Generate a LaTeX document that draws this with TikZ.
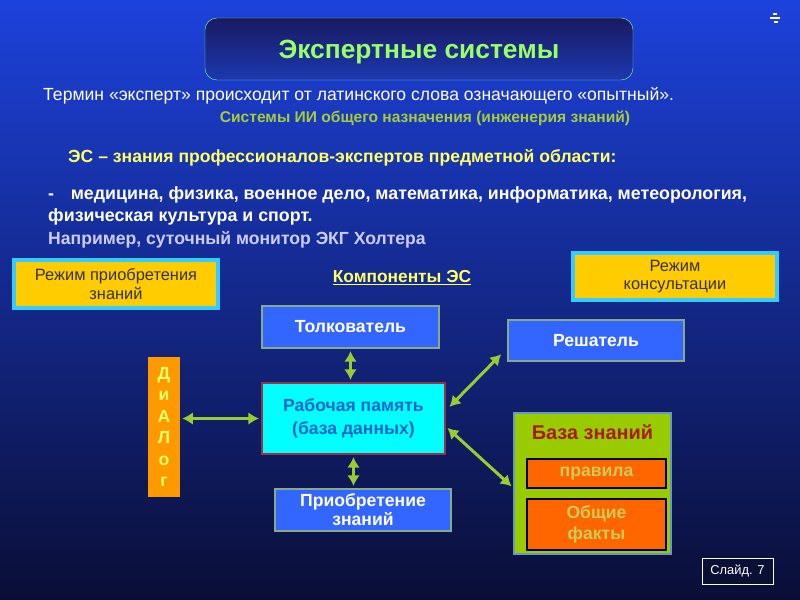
\documentclass[tikz,border=0pt]{standalone}
\usepackage{fontspec}
\setmainfont{Liberation Sans}
\usetikzlibrary{arrows.meta,positioning,calc}
\definecolor{bgtop}{HTML}{1D42DC}
\definecolor{bgmid}{HTML}{0D2890}
\definecolor{bgbot}{HTML}{0A0E36}
\definecolor{titletop}{HTML}{1A1A62}
\definecolor{titlebot}{HTML}{1C38B0}
\definecolor{titleline}{HTML}{77EEAA}
\definecolor{titletext}{HTML}{99FF66}
\definecolor{aigreen}{HTML}{A6CC3C}
\definecolor{esyellow}{HTML}{FFFF66}
\definecolor{lavender}{HTML}{CCCCFF}
\definecolor{gold}{HTML}{FFCC00}
\definecolor{skyline}{HTML}{33CCFF}
\definecolor{partblue}{HTML}{3366FF}
\definecolor{partline}{HTML}{88AA88}
\definecolor{memcyan}{HTML}{00FFFF}
\definecolor{memline}{HTML}{993344}
\definecolor{memtext}{HTML}{0066CC}
\definecolor{dialogorange}{HTML}{FF9900}
\definecolor{kbgreen}{HTML}{99CC00}
\definecolor{kbline}{HTML}{6699BB}
\definecolor{kbred}{HTML}{AA1A00}
\definecolor{factorange}{HTML}{FF6600}
\definecolor{facttext}{HTML}{CCCC55}
\definecolor{linkgreen}{HTML}{99CC33}
\definecolor{slidebg}{HTML}{0A0F35}

\begin{document}
\begin{tikzpicture}[x=0.3mm,y=-0.3mm,
  mode/.style={draw=skyline,line width=1mm,fill=gold,align=center,text=black!80,font=\fontsize{14}{15.5}\selectfont},
  part/.style={draw=partline,line width=0.6mm,fill=partblue,align=center,text=white,font=\bfseries\fontsize{15}{17}\selectfont},
  fact/.style={draw=black,line width=0.6mm,fill=factorange,align=center,text=facttext,font=\bfseries\fontsize{15}{17.5}\selectfont,minimum width=41.7mm},
  line/.style={anchor=west,inner sep=0pt,font=\bfseries\fontsize{15}{17}\selectfont},
  link/.style={{Latex[length=3.2mm,width=3.8mm]}-{Latex[length=3.2mm,width=3.8mm]},line width=0.9mm,linkgreen,shorten <=0.6mm,shorten >=0.6mm}
]
  \useasboundingbox (0,0) rectangle (800,600);
  \shade[top color=bgtop,middle color=bgmid,bottom color=bgbot] (0,0) rectangle (800,600);
  % slide control mark
  \fill[white] (773,13) rectangle (777,15);
  \fill[white] (770,17) rectangle (780,19);
  \fill[white] (774,21) rectangle (778,23);

  % heading
  \node[draw=titleline,thin,top color=titletop,bottom color=titlebot,rounded corners=3.6mm,minimum width=128.4mm,minimum height=18.6mm] (title) at (419,49) {};
  \node[text=titletext,font=\bfseries\fontsize{22.5}{26}\selectfont] (titletext) at (419,52) {Экспертные системы};

  \node[line,text=white,font=\fontsize{15}{17}\selectfont] (term) at (43,96) {Термин «эксперт» происходит от латинского слова означающего «опытный».};
  \node[line,text=aigreen,anchor=center,font=\bfseries\fontsize{13.3}{15}\selectfont] (general) at (425,118) {Системы ИИ общего назначения (инженерия знаний)};
  \node[line,text=esyellow] (es) at (68,158) {ЭС – знания профессионалов-экспертов предметной области:};
  \node[line,text=white,font=\bfseries\fontsize{15.2}{17}\selectfont] (domains) at (48,195) {-\hspace{5mm}медицина, физика, военное дело, математика, информатика, метеорология,};
  \node[line,text=white,font=\bfseries\fontsize{15.2}{17}\selectfont] (sport) at (48,217) {физическая культура и спорт.};
  \node[line,text=lavender] (holter) at (48,240) {Например, суточный монитор ЭКГ Холтера};

  % modes
  \node[mode,minimum width=61.2mm,minimum height=14.4mm] (acqmode) at (116,284) {Режим приобретения\\знаний};
  \node[mode,minimum width=61.2mm,minimum height=14.1mm] (consmode) at (675,276.5) {Режим\\консультации};
  \node[text=esyellow,font=\bfseries\fontsize{14.8}{16}\selectfont] (components) at (402,278) {\underline{Компоненты ЭС}};

  % components
  \node[part,minimum width=53.1mm,minimum height=12.6mm] (interp) at (350.5,327) {Толкователь};
  \node[part,minimum width=52.8mm,minimum height=12.3mm] (solver) at (596,340.5) {Решатель};
  \node[part,draw=memline,fill=memcyan,text=memtext,minimum width=54.9mm,minimum height=21.3mm,font=\bfseries\fontsize{15}{19}\selectfont] (memory) at (353.5,418.5) {Рабочая память\\(база данных)};
  \node[part,minimum width=52.8mm,minimum height=12.6mm,font=\bfseries\fontsize{15}{16}\selectfont] (acquire) at (363,510) {Приобретение\\знаний};
  \node[fill=dialogorange,minimum width=9.6mm,minimum height=42mm,align=center,text=esyellow,font=\bfseries\fontsize{15}{18.4}\selectfont] (dialog) at (164,427) {Д\\и\\А\\Л\\о\\г};

  % knowledge base
  \node[draw=kbline,line width=0.6mm,fill=kbgreen,minimum width=47.1mm,minimum height=42.3mm] (kb) at (592.5,483.5) {};
  \node[text=kbred,font=\bfseries\fontsize{17}{19}\selectfont] (kbtitle) at (592.5,432) {База знаний};
  \node[fact,minimum height=8.7mm] (rules) at (596.5,473.5) {правила};
  \node[fact,minimum height=15.3mm] (facts) at (596.5,524.5) {Общие\\факты};

  \draw[link] (dialog.east |- memory.west) -- (memory.west);
  \draw[link] (interp.south) -- (interp.south |- memory.north);
  \draw[link] (memory.south) -- (memory.south |- acquire.north);
  \draw[link,shorten <=1.5mm,shorten >=2.5mm] (memory.5) -- (solver.185);
  \draw[link] (memory.-5) -- (kb.183);

  \node[draw=white,fill=slidebg,minimum width=21.3mm,minimum height=7.8mm,text=white,font=\fontsize{11}{12}\selectfont] (slide) at (737.5,571) {Слайд. 7};
\end{tikzpicture}
\end{document}
